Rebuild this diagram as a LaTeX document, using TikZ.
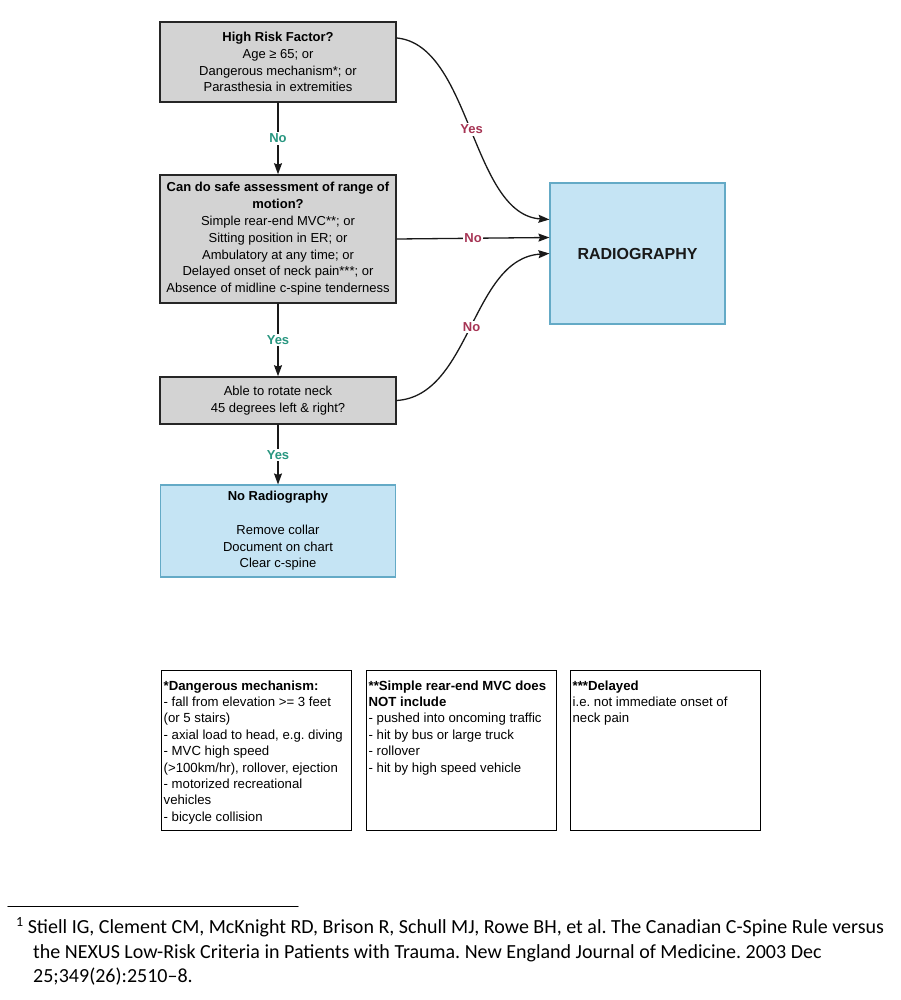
\documentclass[tikz,border=0pt]{standalone}
\usepackage{fontspec}
\setmainfont{Liberation Sans}
\newfontfamily\notefont{Carlito}
\usetikzlibrary{arrows.meta}
\usepackage{xcolor}
\definecolor{boxgray}{RGB}{211,211,211}
\definecolor{boxblue}{RGB}{197,228,244}
\definecolor{edgeblue}{RGB}{100,170,198}
\definecolor{yesgreen}{RGB}{40,150,128}
\definecolor{nored}{RGB}{166,52,84}
\frenchspacing

\begin{document}
\begin{tikzpicture}[x=1pt,y=-1pt,>={Stealth[length=11pt,width=8pt,inset=1.5pt]},
  font=\fontsize{13}{16.8}\selectfont,line cap=round,
  question/.style={draw=black!85,line width=1.6pt,fill=boxgray,align=center,minimum width=236pt,inner sep=0pt},
  outcome/.style={draw=edgeblue,line width=1.1pt,fill=boxblue,align=center,inner sep=0pt},
  legend/.style={draw=black,line width=1.3pt,anchor=north west,inner xsep=2pt,inner ysep=8pt,font=\fontsize{13.2}{16.4}\selectfont},
  choice/.style={fill=white,font=\fontsize{13}{15}\selectfont\bfseries,inner sep=1.5pt},
  link/.style={->,line width=1.3pt,black!90}]
\useasboundingbox (0,0) rectangle (900,1000);

% decision chain
\node[question,minimum height=80pt] (risk) at (278,62)
  {\textbf{High Risk Factor?}\\Age ≥ 65; or\\Dangerous mechanism*; or\\Parasthesia in extremities};
\node[question,minimum height=128pt] (range) at (278,239)
  {\textbf{Can do safe assessment of range of}\\\textbf{motion?}\\Simple rear-end MVC**; or\\Sitting position in ER; or\\Ambulatory at any time; or\\Delayed onset of neck pain***; or\\Absence of midline c-spine tenderness};
\node[question,minimum height=47pt] (rotate) at (278,400.5)
  {Able to rotate neck\\45 degrees left \& right?};
\node[outcome,minimum width=235pt,minimum height=92pt] (clear) at (278,531)
  {\textbf{No Radiography}\\[16.8pt]Remove collar\\Document on chart\\Clear c-spine};
\node[outcome,minimum width=175pt,minimum height=141pt,text=black!90,
  font=\fontsize{16}{18}\selectfont\bfseries] (radio) at (637.5,253.5) {RADIOGRAPHY};

\draw[link] (risk.south) -- node[choice,text=yesgreen] {No} (range.north);
\draw[link] (range.south) -- node[choice,text=yesgreen] {Yes} (rotate.north);
\draw[link] (rotate.south) -- node[choice,text=yesgreen] {Yes} (clear.north);

\draw[link] ([yshift=24pt]risk.east) .. controls +(74,7) and +(-78,-5) ..
  node[choice,text=nored] {Yes} ([yshift=34pt]radio.west);
\draw[link] (range.east) -- node[choice,text=nored] {No} ([yshift=16pt]radio.west);
\draw[link] (rotate.east) .. controls +(74,-5) and +(-78,5) ..
  node[choice,text=nored] {No} (radio.west);

% footnote boxes
\node[legend] (danger) at (161,670) {\parbox[t][144pt][t]{186pt}{\strut\textbf{*Dangerous mechanism:}\\
  - fall from elevation >= 3 feet\\(or 5 stairs)\\- axial load to head, e.g. diving\\- MVC high speed\\
  (>100km/hr), rollover, ejection\\- motorized recreational\\vehicles\\- bicycle collision}};
\node[legend] (rearend) at (366,670) {\parbox[t][144pt][t]{186pt}{\strut\textbf{**Simple rear-end MVC does}\\
  \textbf{NOT include}\\- pushed into oncoming traffic\\- hit by bus or large truck\\- rollover\\- hit by high speed vehicle}};
\node[legend] (delayed) at (570,670) {\parbox[t][144pt][t]{186pt}{\strut\textbf{***Delayed}\\
  i.e. not immediate onset of\\neck pain}};

% reference
\draw[line width=1.3pt] (8,906.5) -- (298,906.5);
\node[anchor=north west,align=left,inner sep=0pt,font=\notefont\fontsize{20}{24.5}\selectfont] (cite) at (16,917)
  {\textsuperscript{1}\hspace{4pt}Stiell IG, Clement CM, McKnight RD, Brison R, Schull MJ, Rowe BH, et al. The Canadian C-Spine Rule versus\\
  \hspace*{17pt}the NEXUS Low-Risk Criteria in Patients with Trauma. New England Journal of Medicine. 2003 Dec\\
  \hspace*{17pt}25;349(26):2510–8.};
\end{tikzpicture}
\end{document}
